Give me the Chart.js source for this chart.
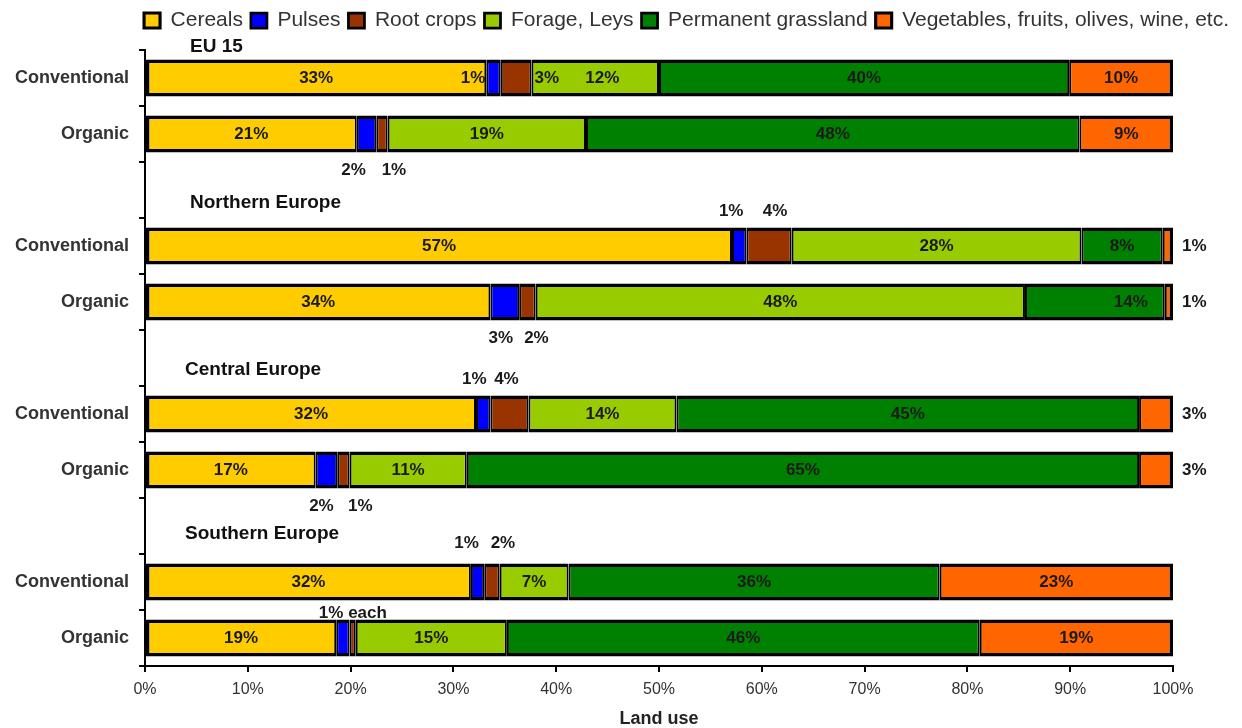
<!DOCTYPE html>
<html>
<head>
<meta charset="utf-8">
<title>Land use</title>
<script src="https://cdn.jsdelivr.net/npm/chart.js@4.4.0/dist/chart.umd.min.js"></script>
<style>
  html, body { margin: 0; padding: 0; background: #fff; }
  #wrap { width: 1242px; height: 728px; }
</style>
</head>
<body>
<div id="wrap"><canvas id="landUse" width="1242" height="728"></canvas></div>
<script>
// rows of the chart, blank rows split the four regions
const categories = ['Conventional', 'Organic', '', 'Conventional', 'Organic', '', 'Conventional', 'Organic', '', 'Conventional', 'Organic'];
const groupTitles = ['EU 15', 'Northern Europe', 'Central Europe', 'Southern Europe'];
const groupRows = [0, 3, 6, 9];

const seriesNames = ['Cereals', 'Pulses', 'Root crops', 'Forage, Leys', 'Permanent grassland', 'Vegetables, fruits, olives, wine, etc.'];
const cereals    = [33.2, 20.6, null, 57.1, 33.6, null, 32.2, 16.6, null, 31.7, 18.6];
const pulses     = [1.4, 1.9, null, 1.4, 2.8, null, 1.4, 2.1, null, 1.3, 1.3];
const rootCrops  = [3.0, 1.1, null, 4.4, 1.6, null, 3.7, 1.2, null, 1.5, 0.6];
const forage     = [12.4, 19.3, null, 28.2, 47.6, null, 14.4, 11.4, null, 6.7, 14.7];
const grassland  = [39.9, 48.0, null, 7.9, 13.6, null, 45.0, 65.4, null, 36.1, 46.0];
const vegetables = [10.1, 9.1, null, 1.0, 0.8, null, 3.3, 3.3, null, 22.7, 18.8];

const xTicks = [0, 10, 20, 30, 40, 50, 60, 70, 80, 90, 100];

// label text that is not just the rounded value (row -> dataset)
const labelText = { 10: { 1: '1% each' } };

const colors = ['#FFCC00', '#0000FF', '#993300', '#99CC00', '#008000', '#FF6600'];

// where each value label sits: c = centred, a = above, b = below, o = right of the bar,
// l = right-aligned before the segment, r = left-aligned after it.  [kind, dx, gap]
const labelSpots = [
  ['c', 'l', 'r', ['c', 7], 'c', 'c'],
  ['c', ['b', -13], ['b', 12], 'c', 'c', 'c'],
  null,
  ['c', ['a', -8], ['a', 6], 'c', 'c', 'o'],
  ['c', ['b', -4], ['b', 9], 'c', ['c', 36], 'o'],
  null,
  ['c', ['a', -9], ['a', -3], 'c', 'c', 'o'],
  ['c', ['b', -5], ['b', 17], 'c', 'c', 'o'],
  null,
  ['c', ['a', -11, 20], ['a', 11, 20], 'c', 'c', 'c'],
  ['c', ['a', 10, 6], null, 'c', 'c', 'c']
];
const titleIndent = [45, 45, 40, 40];
const titleRise = [31, 43, 44, 48];

const FONT = '"Liberation Sans", Arial, Helvetica, sans-serif';
Chart.defaults.font.family = FONT;

const valueLabels = {
  id: 'valueLabels',
  afterDatasetsDraw(chart) {
    const ctx = chart.ctx;
    const area = chart.chartArea;
    ctx.save();
    ctx.font = 'bold 17px ' + FONT;
    ctx.fillStyle = '#1a1a1a';
    ctx.textBaseline = 'middle';
    chart.data.datasets.forEach((ds, d) => {
      const meta = chart.getDatasetMeta(d);
      meta.data.forEach((bar, i) => {
        const spots = labelSpots[i];
        if (!spots || !spots[d] || ds.data[i] == null) return;
        const spot = Array.isArray(spots[d]) ? spots[d] : [spots[d]];
        const kind = spot[0], dx = spot[1] || 0, gap = spot[2];
        const text = (labelText[i] && labelText[i][d]) || Math.round(ds.data[i]) + '%';
        const left = Math.min(bar.base, bar.x), right = Math.max(bar.base, bar.x);
        const half = bar.height / 2;
        let x = (left + right) / 2 + dx, y = bar.y;
        ctx.textAlign = 'center';
        if (kind === 'a') y = bar.y - half - (gap == null ? 16 : gap);
        else if (kind === 'b') y = bar.y + half + (gap == null ? 17.5 : gap);
        else if (kind === 'o') { x = area.right + 9; ctx.textAlign = 'left'; }
        else if (kind === 'l') { x = left - 1; ctx.textAlign = 'right'; }
        else if (kind === 'r') { x = right + 3; ctx.textAlign = 'left'; }
        ctx.fillText(text, x, y);
      });
    });
    ctx.restore();
  }
};

const groupLabels = {
  id: 'groupLabels',
  afterDraw(chart) {
    const { ctx, chartArea, scales } = chart;
    ctx.save();
    ctx.font = 'bold 19px ' + FONT;
    ctx.fillStyle = '#111';
    ctx.textBaseline = 'middle';
    ctx.textAlign = 'left';
    groupTitles.forEach((t, g) => {
      const y0 = scales.y.getPixelForValue(groupRows[g]);
      ctx.fillText(t, chartArea.left + titleIndent[g], y0 - titleRise[g]);
    });
    ctx.restore();
  }
};

// a bit of room between legend and plot
const legendGap = {
  id: 'legendGap',
  beforeInit(chart) {
    const fit = chart.legend.fit;
    chart.legend.fit = function () {
      fit.call(this);
      this.height += 9;
    };
  }
};

const series = [cereals, pulses, rootCrops, forage, grassland, vegetables];
const last = series.length - 1;

new Chart(document.getElementById('landUse'), {
  type: 'bar',
  data: {
    labels: categories,
    datasets: series.map((data, k) => ({
      label: seriesNames[k],
      data,
      backgroundColor: colors[k],
      borderColor: '#000',
      // inner joins add up to ~4px, outer ends get the full width
      borderWidth: { top: 3.5, bottom: 3.5, left: k === 0 ? 3.5 : 2, right: k === last ? 3.5 : 2 },
      borderSkipped: false,
      barPercentage: 0.66,
      categoryPercentage: 1.0
    }))
  },
  options: {
    indexAxis: 'y',
    responsive: false,
    animation: false,
    devicePixelRatio: 1,
    layout: { padding: { top: 2, left: 0, right: 5, bottom: 0 } },
    scales: {
      x: {
        stacked: true,
        min: 0,
        max: 100,
        afterBuildTicks(s) { s.ticks = xTicks.map(v => ({ value: v })); },
        ticks: { callback: v => v + '%', color: '#333', font: { size: 16 }, padding: 8 },
        grid: { drawOnChartArea: false, tickLength: 6, tickColor: '#000', lineWidth: 2 },
        border: { color: '#000', width: 2 },
        title: { display: true, text: 'Land use', color: '#222', font: { size: 18, weight: 'bold', lineHeight: 1 }, padding: 0 },
        afterFit(s) { s.height = 62; }
      },
      y: {
        stacked: true,
        ticks: { color: '#333', font: { size: 18, weight: 'bold' }, padding: 10 },
        grid: { drawOnChartArea: false, tickLength: 6, tickColor: '#000', lineWidth: 2 },
        border: { color: '#000', width: 2 },
        afterFit(s) { s.width = 145; }
      },
      pad: {
        type: 'linear',
        position: 'right',
        grid: { display: false, drawTicks: false },
        ticks: { display: false },
        border: { display: false },
        afterFit(s) { s.width = 64; }
      }
    },
    plugins: {
      legend: {
        position: 'top',
        align: 'end',
        labels: { boxWidth: 16, boxHeight: 15, padding: 8, color: '#333', font: { size: 21 } }
      },
      tooltip: { enabled: false }
    }
  },
  plugins: [legendGap, valueLabels, groupLabels]
});
</script>
</body>
</html>
